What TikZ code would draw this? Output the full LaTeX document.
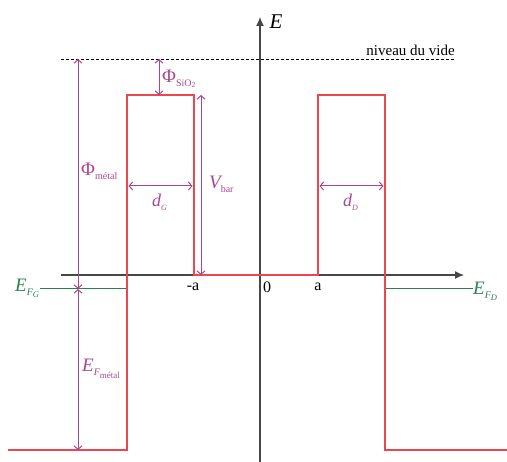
\documentclass[tikz,border=0pt]{standalone}
\usepackage{fontspec}
\setmainfont{Liberation Serif}
\usetikzlibrary{arrows.meta}
\definecolor{barred}{RGB}{236,70,80}
\definecolor{dimmag}{RGB}{168,70,140}
\definecolor{fermigreen}{RGB}{40,130,80}
\definecolor{axisgrey}{RGB}{70,70,70}
\newcommand{\sbx}[2][-0.45ex]{\raisebox{#1}{\fontsize{10}{10}\selectfont #2}}
\tikzset{
  axisline/.style={draw=axisgrey, line width=1.2pt, -{Latex[length=9pt,width=8pt]}},
  barrier/.style={draw=barred, line width=1.3pt},
  fermi/.style={draw=fermigreen, line width=1pt},
  dimarrow/.style={draw=dimmag, line width=1pt, {Straight Barb[length=3.5pt,width=8pt]}-{Straight Barb[length=3.5pt,width=8pt]}},
  vide/.style={draw=black, line width=0.6pt, dash pattern=on 3pt off 2pt},
  lbl/.style={inner sep=0pt, font=\fontsize{15}{18}\selectfont},
  maglbl/.style={lbl, text=dimmag},
  greenlbl/.style={lbl, text=fermigreen}
}
\begin{document}
\begin{tikzpicture}[x=1pt,y=-1pt]
\useasboundingbox (0,0) rectangle (507,462);
% coordinates
\coordinate (vl) at (61,59); \coordinate (vr) at (455,59);
\coordinate (xl) at (61,275); \coordinate (xr) at (464,275);
\coordinate (yb) at (260,462); \coordinate (yt) at (260,17);
\coordinate (r0) at (8,450); \coordinate (r1) at (127,450);
\coordinate (r2) at (127,95); \coordinate (r3) at (194,95);
\coordinate (r4) at (194,275); \coordinate (r5) at (318,275);
\coordinate (r6) at (318,95); \coordinate (r7) at (385,95);
\coordinate (r8) at (385,450); \coordinate (r9) at (507,450);
\coordinate (gl0) at (40,289); \coordinate (gl1) at (127,289);
\coordinate (gr0) at (385,289); \coordinate (gr1) at (473,289);
\coordinate (pmt) at (78,59); \coordinate (pmb) at (78,289);
\coordinate (efb) at (78,450);
\coordinate (pst) at (159,59); \coordinate (psb) at (159,95);
\coordinate (vbt) at (201,95); \coordinate (vbb) at (201,275);
\coordinate (dgl) at (128.5,186); \coordinate (dgr) at (192.5,186);
\coordinate (ddl) at (319.5,186); \coordinate (ddr) at (383.5,186);
% vacuum level
\draw[vide] (vl) -- (vr);
\node[lbl, anchor=base east] (vide) at (455,56) {niveau du vide};
% axes
\draw[axisline] (xl) -- (xr);
\draw[axisline] (yb) -- (yt);
\node[lbl, font=\fontsize{21}{21}\selectfont\itshape] (E) at (276,22) {E};
% Fermi levels
\draw[fermi] (gl0) -- (gl1);
\draw[fermi] (gr0) -- (gr1);
% barriers
\draw[barrier, line join=miter] (r0) -- (r1) -- (r2) -- (r3) -- (r4) -- (r5) -- (r6) -- (r7) -- (r8) -- (r9);
% dimension arrows
\draw[dimarrow] (pmt) -- (pmb);
\draw[dimarrow] (pmb) -- (efb);
\draw[dimarrow] (pst) -- (psb);
\draw[dimarrow] (vbt) -- (vbb);
\draw[dimarrow] (dgl) -- (dgr);
\draw[dimarrow] (ddl) -- (ddr);
% labels
\node[maglbl, anchor=base west] (phisio) at (162,83) {\fontsize{19}{19}\selectfont Φ\sbx[-0.35ex]{SiO\sbx[-0.3ex]{\fontsize{7.5}{7.5}\selectfont 2}}};
\node[maglbl, anchor=base west] (phim) at (81,176) {\fontsize{19}{19}\selectfont Φ\sbx[-0.4ex]{métal}};
\node[maglbl, anchor=base west] (vbar) at (209,189) {\fontsize{19}{19}\selectfont\itshape V\sbx[-0.45ex]{\upshape bar}};
\node[maglbl, anchor=base west] (dg) at (152,207) {\fontsize{18}{18}\selectfont\itshape d\sbx[-0.45ex]{\fontsize{8}{8}\selectfont G}};
\node[maglbl, anchor=base west] (dd) at (343,207) {\fontsize{18}{18}\selectfont\itshape d\sbx[-0.45ex]{\fontsize{8}{8}\selectfont D}};
\node[maglbl, anchor=base west] (efm) at (82,372) {\fontsize{19}{19}\selectfont\itshape E\sbx[-0.45ex]{F\sbx[-0.5ex]{\upshape\fontsize{9}{9}\selectfont métal}}};
\node[greenlbl, anchor=base west] (efg) at (15,292) {\fontsize{19}{19}\selectfont\itshape E\sbx[-0.45ex]{F\sbx[-0.3ex]{\fontsize{8.5}{8.5}\selectfont G}}};
\node[greenlbl, anchor=base west] (efd) at (473,295) {\fontsize{19}{19}\selectfont\itshape E\sbx[-0.45ex]{F\sbx[-0.3ex]{\fontsize{8.5}{8.5}\selectfont D}}};
\node[lbl, font=\fontsize{16}{16}\selectfont] (ma) at (193,287) {-a};
\node[lbl, font=\fontsize{16}{16}\selectfont] (zero) at (267,287) {0};
\node[lbl, font=\fontsize{16}{16}\selectfont] (pa) at (318,287) {a};
\end{tikzpicture}
\end{document}
